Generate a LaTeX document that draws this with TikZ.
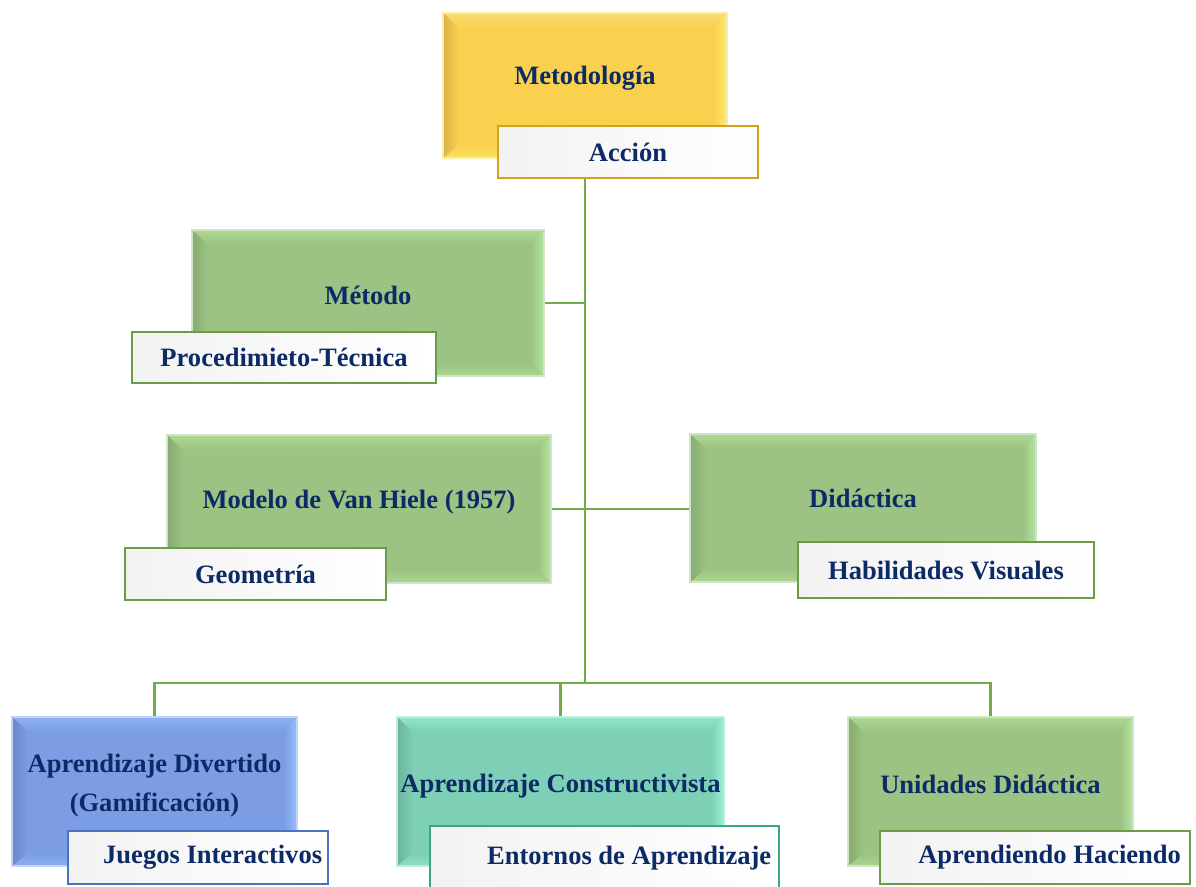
\documentclass[tikz,border=0pt]{standalone}
\usepackage{fontspec}
\setmainfont{Liberation Serif}
\usetikzlibrary{calc}
\pgfdeclarelayer{background}
\pgfsetlayers{background,main}
\definecolor{txt}{HTML}{0B2A66}
\definecolor{cline}{HTML}{70AD47}
\definecolor{ybase}{HTML}{FAD14F}\definecolor{ytop}{HTML}{F8DB72}\definecolor{yright}{HTML}{FFEC6E}\definecolor{yleft}{HTML}{D9B24A}\definecolor{ybot}{HTML}{F9E060}\definecolor{yedge}{HTML}{D0A41C}
\definecolor{gbase}{HTML}{9CC383}\definecolor{gtop}{HTML}{ABD992}\definecolor{gright}{HTML}{B4E6A0}\definecolor{gleft}{HTML}{87AB71}\definecolor{gbot}{HTML}{A9D690}\definecolor{gedge}{HTML}{6B9C48}
\definecolor{bbase}{HTML}{7C9DE4}\definecolor{btop}{HTML}{8DB1F7}\definecolor{bright}{HTML}{98BEFF}\definecolor{bleft}{HTML}{6B89C8}\definecolor{bbot}{HTML}{8AAEF2}\definecolor{bedge}{HTML}{4A72C2}
\definecolor{tbase}{HTML}{7DCFB5}\definecolor{ttop}{HTML}{8EE8CC}\definecolor{tright}{HTML}{9AF2D9}\definecolor{tleft}{HTML}{6BB59D}\definecolor{tbot}{HTML}{8AE2C6}\definecolor{tedge}{HTML}{3DA584}
\tikzset{
  bevel/.style n args={5}{rectangle, inner sep=0pt, fill=#1, draw=#1!45!white, line width=0.8pt,
    path picture={
      \coordinate (bA) at (path picture bounding box.north west);
      \coordinate (bB) at (path picture bounding box.north east);
      \coordinate (bC) at (path picture bounding box.south east);
      \coordinate (bD) at (path picture bounding box.south west);
      \coordinate (ba) at ([shift={(12pt,-11pt)}]bA);
      \coordinate (bb) at ([shift={(-10pt,-11pt)}]bB);
      \coordinate (bc) at ([shift={(-10pt,10pt)}]bC);
      \coordinate (bd) at ([shift={(12pt,10pt)}]bD);
      \shade[top color=#2, bottom color=#1] (bA) -- (bB) -- (bb) -- (ba) -- cycle;
      \shade[left color=#1, right color=#3] (bB) -- (bC) -- (bc) -- (bb) -- cycle;
      \shade[top color=#1, bottom color=#4] (bC) -- (bD) -- (bd) -- (bc) -- cycle;
      \shade[left color=#5, right color=#1] (bD) -- (bA) -- (ba) -- (bd) -- cycle;
    }},
  yellowbox/.style={bevel={ybase}{ytop}{yright}{ybot}{yleft}},
  greenbox/.style={bevel={gbase}{gtop}{gright}{gbot}{gleft}},
  bluebox/.style={bevel={bbase}{btop}{bright}{bbot}{bleft}},
  tealbox/.style={bevel={tbase}{ttop}{tright}{tbot}{tleft}},
  subbox/.style={rectangle, inner sep=0pt, left color=black!5, right color=white, draw=#1, line width=1.6pt},
  lab/.style={text=txt, font=\fontsize{19.9pt}{29pt}\selectfont\bfseries, align=center, inner sep=0pt},
  conn/.style={draw=cline, line width=2.2pt}
}
\newcommand\boxnode[8]{%
  \node[#6, minimum width={(#4-#2)*0.75pt}, minimum height={(#5-#3)*0.75pt},
    label={[lab,#7]center:#8}] (#1) at ({(#2+#4)/2},{(#3+#5)/2}) {};}
\begin{document}
\begin{tikzpicture}[x=0.75pt,y=-0.75pt]
\useasboundingbox (0,0) rectangle (1196,886);
% main boxes
\boxnode{metodologia}{443}{13}{727}{158}{yellowbox}{yshift=5.5pt}{Metodología}
\boxnode{metodo}{192}{230}{544}{376}{greenbox}{yshift=6pt}{Método}
\boxnode{modelo}{167}{435}{551}{583}{greenbox}{yshift=5.5pt}{Modelo de Van Hiele (1957)}
\boxnode{didactica}{690}{434}{1036}{582}{greenbox}{yshift=7pt}{Didáctica}
\boxnode{divertido}{12}{717}{297}{866}{bluebox}{yshift=4.5pt}{Aprendizaje Divertido\\(Gamificación)}
\boxnode{constructivista}{397}{717}{724}{866}{tealbox}{yshift=4pt}{Aprendizaje Constructivista}
\boxnode{unidades}{848}{717}{1133}{866}{greenbox}{yshift=5.5pt}{Unidades Didáctica}
% sub boxes
\boxnode{accion}{498}{126}{758}{178}{subbox=yedge}{}{Acción}
\boxnode{procedimiento}{132}{332}{436}{383}{subbox=gedge}{}{Procedimieto-Técnica}
\boxnode{geometria}{125}{548}{386}{600}{subbox=gedge}{}{Geometría}
\boxnode{habilidades}{798}{542}{1094}{598}{subbox=gedge}{}{Habilidades Visuales}
\boxnode{juegos}{68}{831}{328}{884}{subbox=bedge}{xshift=11pt}{Juegos Interactivos}
\boxnode{entornos}{430}{826}{779}{892}{subbox=tedge}{xshift=18.5pt,yshift=1pt}{Entornos de Aprendizaje}
\boxnode{haciendo}{880}{831}{1190}{884}{subbox=gedge}{xshift=11pt}{Aprendiendo Haciendo}
% connectors
\coordinate (bus) at (585,683);
\begin{pgfonlayer}{background}
\draw[conn] (accion.south -| bus) -- (bus);
\draw[conn] (metodo.east) -- (metodo.east -| bus);
\draw[conn] (modelo.east) -- (modelo.east -| didactica.west);
\draw[conn] (divertido.north) |- (bus) -| (unidades.north);
\draw[conn] (constructivista.north) -- (constructivista.north |- bus);
\end{pgfonlayer}
\end{tikzpicture}
\end{document}
